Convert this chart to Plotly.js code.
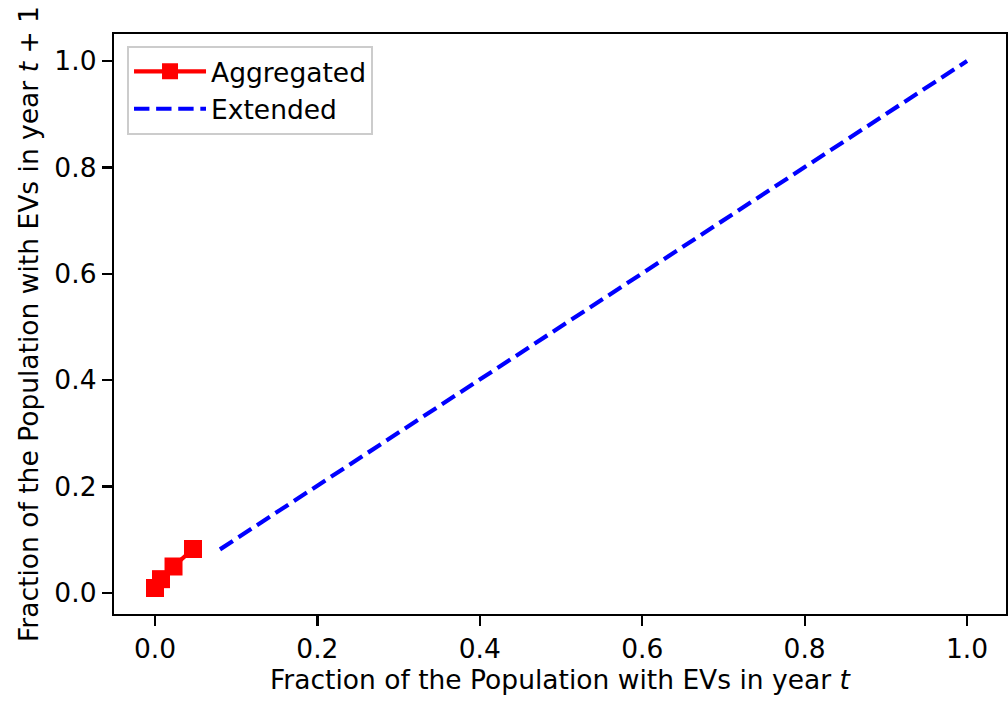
<!DOCTYPE html>
<html>
<head>
<meta charset="utf-8">
<script src="https://cdn.plot.ly/plotly-3.0.1.min.js"></script>
<style>html,body{margin:0;padding:0;background:#fff;}#chart{width:1008px;height:703px;}</style>
</head>
<body>
<div id="chart"></div>
<script>
// Aggregated data points
const aggX = [0.0, 0.0074, 0.0228, 0.0468];
const aggY = [0.0094, 0.026, 0.0498, 0.0827];
// Extended line
const extX = [0.08, 1.0];
const extY = [0.082, 1.0];
const xTicks = [0.0, 0.2, 0.4, 0.6, 0.8, 1.0];
const yTicks = [0.0, 0.2, 0.4, 0.6, 0.8, 1.0];
const tickText = ['0.0', '0.2', '0.4', '0.6', '0.8', '1.0'];

const FONT = 'DejaVu Sans, sans-serif';
const traces = [
  {
    x: aggX, y: aggY, name: 'Aggregated', type: 'scatter', mode: 'lines+markers',
    line: {color: '#ff0000', width: 4.2},
    marker: {symbol: 'square', size: 18, color: '#ff0000', line: {color: '#ff0000', width: 0}}
  },
  {
    x: extX, y: extY, name: 'Extended', type: 'scatter', mode: 'lines',
    line: {color: '#0000ff', width: 4.2, dash: '15.4px,6.7px'}
  }
];
const axisCommon = {
  showline: true, mirror: true, linecolor: '#000', linewidth: 2.2,
  ticks: 'outside', ticklen: 10, tickwidth: 2.2, tickcolor: '#000',
  showgrid: false, zeroline: false, tickfont: {family: FONT, size: 26.5, color: '#000'}
};
const layout = {
  width: 1008, height: 703,
  margin: {l: 114, r: 2, t: 34, b: 89},
  paper_bgcolor: '#fff', plot_bgcolor: '#fff',
  font: {family: FONT, size: 26.5, color: '#000'},
  showlegend: true,
  legend: {
    x: 0.0146, y: 0.98, xanchor: 'left', yanchor: 'top',
    itemwidth: 72,
    bgcolor: 'rgba(255,255,255,0.8)', bordercolor: '#cccccc', borderwidth: 2,
    font: {family: FONT, size: 26.5, color: '#000'}
  },
  xaxis: Object.assign({}, axisCommon, {
    range: [-0.0505, 1.048], tickvals: xTicks, ticktext: tickText,
    title: {text: 'Fraction of the Population with EVs in year <i>t</i>', font: {family: FONT, size: 26.5, color: '#000'}, standoff: 8}
  }),
  yaxis: Object.assign({}, axisCommon, {
    range: [-0.0395, 1.0508], tickvals: yTicks, ticktext: tickText,
    title: {text: 'Fraction of the Population with EVs in year <i>t</i> + 1', font: {family: FONT, size: 26.5, color: '#000'}, standoff: 8}
  })
};
Plotly.newPlot('chart', traces, layout, {displayModeBar: false, staticPlot: true});
</script>
</body>
</html>
